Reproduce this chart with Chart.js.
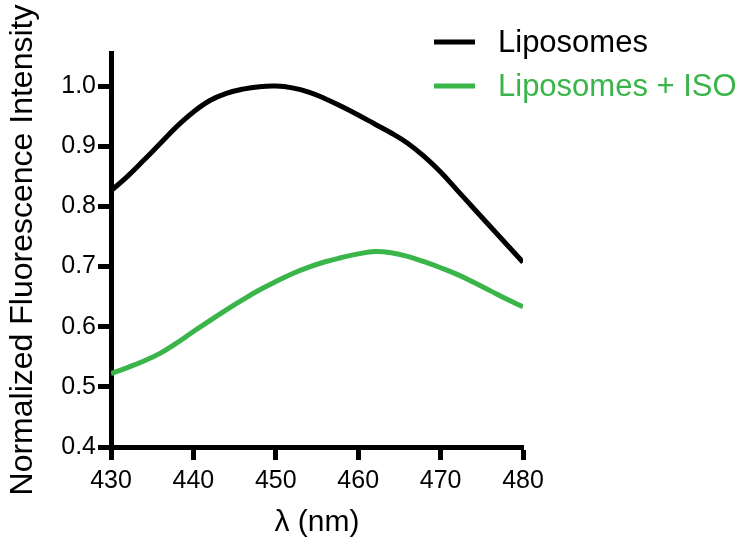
<!DOCTYPE html>
<html>
<head>
<meta charset="utf-8">
<script src="https://cdn.jsdelivr.net/npm/chart.js@4/dist/chart.umd.min.js"></script>
<style>
  html, body { margin: 0; padding: 0; background: #fff; }
  #wrap { width: 747px; height: 549px; }
</style>
</head>
<body>
<div id="wrap"><canvas id="c" width="747" height="549"></canvas></div>
<script>
// Emission wavelengths (nm)
const wavelengths = [430, 432, 434, 436, 438, 440, 442, 444, 446, 448, 450, 452, 454,
                     456, 458, 460, 462, 464, 466, 468, 470, 472, 474, 476, 478, 480];
// Normalized fluorescence, liposomes alone
const liposomes = [0.826, 0.850, 0.877, 0.905, 0.933, 0.957, 0.976, 0.988, 0.995, 0.999,
                   1.000, 0.997, 0.990, 0.979, 0.966, 0.952, 0.937, 0.922, 0.905, 0.883,
                   0.857, 0.827, 0.797, 0.767, 0.737, 0.707];
// Normalized fluorescence, liposomes with ISO
const liposomesIso = [0.522, 0.532, 0.543, 0.556, 0.573, 0.592, 0.610, 0.628, 0.645, 0.661,
                      0.675, 0.688, 0.699, 0.708, 0.715, 0.721, 0.725, 0.723, 0.717, 0.708,
                      0.698, 0.687, 0.674, 0.660, 0.646, 0.633];
const seriesLabels = ['Liposomes', 'Liposomes + ISO'];
const xTicks = [430, 440, 450, 460, 470, 480];
const yTicks = [0.4, 0.5, 0.6, 0.7, 0.8, 0.9, 1.0];

const FONT = '"Liberation Sans", Arial, Helvetica, sans-serif';
const GREEN = '#3ab54a';

const toPoints = (ys) => wavelengths.map((x, i) => ({ x, y: ys[i] }));

// Legend drawn at the upper right, outside the plotting box
const sideLegend = {
  id: 'sideLegend',
  afterDraw(chart) {
    const ctx = chart.ctx;
    ctx.save();
    chart.data.datasets.forEach((ds, i) => {
      const y = 42 + i * 44;
      ctx.strokeStyle = ds.borderColor;
      ctx.lineWidth = 5;
      ctx.lineCap = 'butt';
      ctx.beginPath();
      ctx.moveTo(434, y);
      ctx.lineTo(475, y);
      ctx.stroke();
      ctx.fillStyle = ds.borderColor;
      ctx.font = '31px ' + FONT;
      ctx.textBaseline = 'middle';
      ctx.textAlign = 'left';
      ctx.fillText(ds.label, 498, y + 1);
    });
    ctx.restore();
  }
};

new Chart(document.getElementById('c'), {
  type: 'line',
  data: {
    datasets: [
      { label: seriesLabels[0], data: toPoints(liposomes), borderColor: '#000000',
        borderWidth: 5, pointRadius: 0, tension: 0.4, fill: false },
      { label: seriesLabels[1], data: toPoints(liposomesIso), borderColor: GREEN,
        borderWidth: 5, pointRadius: 0, tension: 0.4, fill: false }
    ]
  },
  options: {
    responsive: false,
    animation: false,
    devicePixelRatio: 1,
    layout: { padding: { left: 0, right: 224, top: 53, bottom: 0 } },
    plugins: { legend: { display: false }, tooltip: { enabled: false } },
    scales: {
      x: {
        type: 'linear',
        min: 430, max: 480,
        afterBuildTicks: (s) => { s.ticks = xTicks.map(v => ({ value: v })); },
        afterFit: (s) => { s.height = 102; },
        ticks: { color: '#000', font: { family: FONT, size: 25 }, padding: 6, maxRotation: 0 },
        grid: { drawOnChartArea: false, drawTicks: true, tickLength: 13, tickWidth: 5, tickColor: '#000' },
        border: { display: true, width: 5, color: '#000' },
        title: { display: true, text: 'λ (nm)', color: '#000', font: { family: FONT, size: 30 }, padding: { top: 4, bottom: 8 } }
      },
      y: {
        type: 'linear',
        min: 0.4, max: 1.055,
        afterBuildTicks: (s) => { s.ticks = yTicks.map(v => ({ value: v })); },
        afterFit: (s) => { s.width = 111; },
        ticks: { color: '#000', font: { family: FONT, size: 25 }, padding: 2,
                 callback: (v) => Number(v).toFixed(1) },
        grid: { drawOnChartArea: false, drawTicks: true, tickLength: 13, tickWidth: 5, tickColor: '#000' },
        border: { display: true, width: 5, color: '#000' },
        title: { display: true, text: 'Normalized Fluorescence Intensity', color: '#000',
                 font: { family: FONT, size: 32 }, padding: { top: 4, bottom: 4 } }
      }
    }
  },
  plugins: [sideLegend]
});
</script>
</body>
</html>
